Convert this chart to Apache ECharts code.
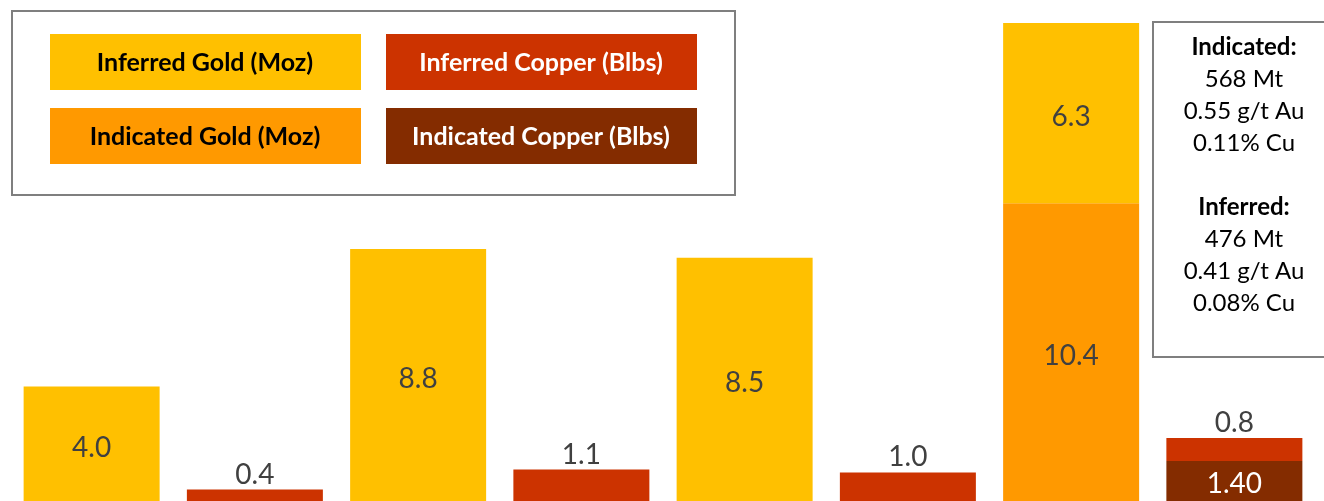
<!DOCTYPE html>
<html>
<head>
<meta charset="utf-8">
<script src="https://cdn.jsdelivr.net/npm/echarts@6/dist/echarts.min.js"></script>
<style>
  html, body { margin: 0; padding: 0; background: #fff; }
  #chart { width: 1324px; height: 501px; }
</style>
</head>
<body>
<div id="chart"></div>
<script>
// categories (one bar each, no axis labels in the original)
const categories = ['A', 'B', 'C', 'D', 'E', 'F', 'G', 'H'];

// series values (null = no bar)
const indicatedGold   = [null, null, null, null, null, null, 10.4, null];
const inferredGold    = [4.0, null, 8.8, null, 8.5, null, 6.3, null];
const indicatedCopper = [null, null, null, null, null, null, null, 1.40];
const inferredCopper  = [null, 0.4, null, 1.1, null, 1.0, null, 0.8];

const seriesNames = ['Inferred Gold (Moz)', 'Inferred Copper (Blbs)', 'Indicated Gold (Moz)', 'Indicated Copper (Blbs)'];

// right-hand note
const noteLines = [
  { text: 'Indicated:', bold: true },
  { text: '568 Mt' },
  { text: '0.55 g/t Au' },
  { text: '0.11% Cu' },
  { text: '' },
  { text: 'Inferred:', bold: true },
  { text: '476 Mt' },
  { text: '0.41 g/t Au' },
  { text: '0.08% Cu' }
];

const colors = {
  inferredGold: '#FFC000',
  inferredCopper: '#CC3300',
  indicatedGold: '#FF9900',
  indicatedCopper: '#842C00'
};

const FONT = 'Lato, "Open Sans", sans-serif';
const labelGrey = '#404040';

const chart = echarts.init(document.getElementById('chart'));

function fmt(digits) {
  return p => (p.value == null ? '' : Number(p.value).toFixed(digits));
}

// legend boxes drawn as graphics
const legendColors = [colors.inferredGold, colors.inferredCopper, colors.indicatedGold, colors.indicatedCopper];
const legendText = ['#000', '#fff', '#000', '#fff'];
const legendPos = [[50, 34], [386, 34], [50, 108], [386, 108]];
const graphics = [{
  type: 'rect',
  shape: { x: 12, y: 11, width: 723, height: 184 },
  style: { fill: '#fff', stroke: '#7F7F7F', lineWidth: 2 }
}];
seriesNames.forEach((name, i) => {
  graphics.push({
    type: 'rect',
    shape: { x: legendPos[i][0], y: legendPos[i][1], width: 311, height: 56 },
    style: { fill: legendColors[i] }
  });
  graphics.push({
    type: 'text',
    x: legendPos[i][0] + 155, y: legendPos[i][1] + 29,
    style: {
      text: name, fill: legendText[i], font: 'bold 25px ' + FONT,
      align: 'center', verticalAlign: 'middle'
    }
  });
});
graphics.push({
  type: 'rect',
  shape: { x: 1153, y: 22, width: 190, height: 335 },
  style: { fill: '#fff', stroke: '#7F7F7F', lineWidth: 2 }
});
noteLines.forEach((l, i) => {
  graphics.push({
    type: 'text',
    x: 1244, y: 47 + i * 32,
    style: {
      text: l.text, fill: '#000', font: (l.bold ? 'bold ' : '') + '24px ' + FONT,
      align: 'center', verticalAlign: 'middle'
    }
  });
});

const option = {
  animation: false,
  grid: { left: 10, right: 8, top: 23, bottom: -1 },
  xAxis: {
    type: 'category',
    data: categories,
    show: false
  },
  yAxis: {
    type: 'value',
    min: 0,
    max: 16.7,
    show: false,
    splitLine: { show: false }
  },
  series: [
    {
      name: 'Indicated Gold (Moz)', type: 'bar', stack: 'all', barWidth: 136,
      data: indicatedGold,
      itemStyle: { color: colors.indicatedGold },
      label: { show: true, position: 'inside', offset: [0, 4], color: labelGrey, fontSize: 28, fontFamily: FONT, formatter: fmt(1) }
    },
    {
      name: 'Inferred Gold (Moz)', type: 'bar', stack: 'all', barWidth: 136,
      data: inferredGold,
      itemStyle: { color: colors.inferredGold },
      label: { show: true, position: 'inside', offset: [0, 4], color: labelGrey, fontSize: 28, fontFamily: FONT, formatter: fmt(1) }
    },
    {
      name: 'Indicated Copper (Blbs)', type: 'bar', stack: 'all', barWidth: 136,
      data: indicatedCopper,
      itemStyle: { color: colors.indicatedCopper },
      label: { show: true, position: 'inside', offset: [0, 3], color: '#fff', fontSize: 28, fontFamily: FONT, formatter: fmt(2) }
    },
    {
      name: 'Inferred Copper (Blbs)', type: 'bar', stack: 'all', barWidth: 136,
      data: inferredCopper,
      itemStyle: { color: colors.inferredCopper },
      label: { show: true, position: 'top', distance: 1, color: labelGrey, fontSize: 28, fontFamily: FONT, formatter: fmt(1) }
    }
  ],
  graphic: graphics
};

chart.setOption(option);
</script>
</body>
</html>
